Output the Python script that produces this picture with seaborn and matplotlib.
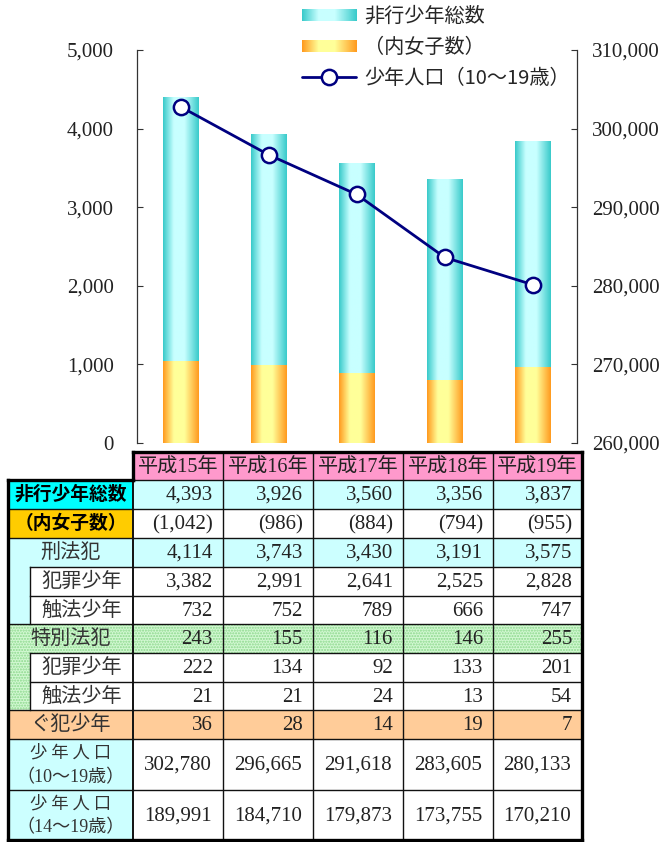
import numpy as np
import pandas as pd
import matplotlib
matplotlib.use("Agg")
import matplotlib.pyplot as plt
import seaborn as sns
from matplotlib.colors import LinearSegmentedColormap
from matplotlib.patches import Rectangle, Patch
from matplotlib.lines import Line2D
from matplotlib.legend_handler import HandlerBase
from matplotlib.image import BboxImage
from matplotlib.transforms import Bbox, TransformedBbox
from matplotlib.ticker import FuncFormatter, MultipleLocator

# ---------------- data ----------------
years = ["平成15年", "平成16年", "平成17年", "平成18年", "平成19年"]
total = [4393, 3926, 3560, 3356, 3837]          # 非行少年総数
female = [1042, 986, 884, 794, 955]             # 内女子数
keiho = [4114, 3743, 3430, 3191, 3575]          # 刑法犯
keiho_hanzai = [3382, 2991, 2641, 2525, 2828]   # 犯罪少年
keiho_shokuho = [732, 752, 789, 666, 747]       # 触法少年
tokubetsu = [243, 155, 116, 146, 255]           # 特別法犯
tok_hanzai = [222, 134, 92, 133, 201]           # 犯罪少年
tok_shokuho = [21, 21, 24, 13, 54]              # 触法少年
guhan = [36, 28, 14, 19, 7]                     # ぐ犯少年
pop_10_19 = [302780, 296665, 291618, 283605, 280133]
pop_14_19 = [189991, 184710, 179873, 173755, 170210]

legend_labels = ["非行少年総数", "（内女子数）", "少年人口（10～19歳）"]
row_labels = ["非行少年総数", "（内女子数）", "刑法犯", "犯罪少年", "触法少年",
              "特別法犯", "犯罪少年", "触法少年", "ぐ犯少年",
              ("少 年 人 口", "（10～19歳）"), ("少 年 人 口", "（14～19歳）")]

# ---------------- style ----------------
sns.set_style("white")
JP = "Noto Sans CJK JP"
SERIF_JP = ["Liberation Serif", JP]
plt.rcParams["font.family"] = SERIF_JP

W, H = 663, 842
fig = plt.figure(figsize=(W / 100, H / 100), dpi=100)

cyan_cmap = LinearSegmentedColormap.from_list(
    "cy", [(0, "#38CACA"), (0.3, "#C8FFFF"), (0.6, "#C8FFFF"), (1, "#38CACA")])
orange_cmap = LinearSegmentedColormap.from_list(
    "or", [(0, "#FF9A1E"), (0.3, "#FFFF99"), (0.6, "#FFFF99"), (1, "#FF9A1E")])
grad = np.linspace(0, 1, 128).reshape(1, -1)

# ---------------- chart ----------------
ax = fig.add_axes([136.5 / W, 1 - 443 / H, (577 - 136.5) / W, (443 - 50) / H])
df = pd.DataFrame({"year": years, "total": total, "female": female})
sns.barplot(data=df, x="year", y="total", width=0.4, color="#3ECCCC", ax=ax)
sns.barplot(data=df, x="year", y="female", width=0.4, color="#FF9A1E", ax=ax)

for cont, cmap, z in [(ax.containers[0], cyan_cmap, 2), (ax.containers[1], orange_cmap, 3)]:
    for p in cont:
        x0, y0, w, h = p.get_x(), p.get_y(), p.get_width(), p.get_height()
        ax.imshow(grad, extent=(x0, x0 + w, y0, y0 + h), aspect="auto",
                  cmap=cmap, interpolation="bilinear", zorder=z)
        p.set_visible(False)

ax.set_xlim(-0.5, len(years) - 0.5)
ax.set_ylim(0, 5000)
ax.yaxis.set_major_locator(MultipleLocator(1000))
ax.yaxis.set_major_formatter(FuncFormatter(lambda v, p: f"{int(v):,}"))
ax.set_xticks([])
ax.set_xlabel("")
ax.set_ylabel("")
for s in ["top", "right", "bottom"]:
    ax.spines[s].set_visible(False)
ax.spines["left"].set_color("#333333")
ax.spines["left"].set_linewidth(0.9)
ax.tick_params(axis="y", direction="in", length=4, width=0.8, color="#333333",
               pad=16.5, labelsize=15, labelcolor="#222222", left=True)
for t in ax.get_yticklabels():
    t.set_family("Liberation Serif")

ax2 = ax.twinx()
sns.lineplot(x=np.arange(len(years)), y=pop_10_19, ax=ax2, color="#000080",
             linewidth=2, marker="o", markersize=11, markerfacecolor="white",
             markeredgecolor="#000080", markeredgewidth=1.8, legend=False, zorder=5)
ax2.set_ylim(260000, 310000)
ax2.yaxis.set_major_locator(MultipleLocator(10000))
ax2.yaxis.set_major_formatter(FuncFormatter(lambda v, p: f"{int(v):,}"))
ax2.set_xlim(-0.5, len(years) - 0.5)
ax2.set_ylabel("")
for s in ["top", "left", "bottom"]:
    ax2.spines[s].set_visible(False)
ax2.spines["right"].set_color("#333333")
ax2.spines["right"].set_linewidth(0.9)
ax2.tick_params(axis="y", direction="in", length=4, width=0.8, color="#333333",
                pad=11, labelsize=15, labelcolor="#222222", right=True)
for t in ax2.get_yticklabels():
    t.set_family("Liberation Serif")


# ---------------- legend ----------------
class HandlerGrad(HandlerBase):
    def __init__(self, cmap, **kw):
        super().__init__(**kw)
        self.cmap = cmap

    def create_artists(self, legend, orig_handle, xdescent, ydescent,
                       width, height, fontsize, trans):
        bb = Bbox.from_bounds(-xdescent, -ydescent + height * 0.05, width, height * 0.85)
        img = BboxImage(TransformedBbox(bb, trans), cmap=self.cmap,
                        interpolation="bilinear")
        img.set_data(grad)
        return [img]


h_cyan = Patch(color="#3ECCCC")
h_or = Patch(color="#FF9A1E")
h_line = Line2D([], [], color="#000080", linewidth=2, marker="o", markersize=11,
                markerfacecolor="white", markeredgecolor="#000080", markeredgewidth=1.8)
leg = fig.legend([h_cyan, h_or, h_line], legend_labels,
                 handler_map={h_cyan: HandlerGrad(cyan_cmap), h_or: HandlerGrad(orange_cmap)},
                 loc="upper left", bbox_to_anchor=(302 / W, 1 - 6 / H),
                 frameon=False, borderpad=0, borderaxespad=0,
                 handlelength=2.7, handleheight=0.7, handletextpad=0.4,
                 labelspacing=0.5, numpoints=1, prop={"family": JP, "size": 14.5})

# ---------------- table ----------------
tax = fig.add_axes([0, 0, 1, 1])
tax.set_xlim(0, W)
tax.set_ylim(H, 0)
tax.axis("off")

cols = [133, 223, 313, 403, 493, 582]
LX, SX = 8, 30
rows = [452, 480, 509, 538, 567, 596, 624, 653, 682, 710, 739, 790, 840]
CY, LCY, GOLD, CYAN, PEACH, PINK = "#CCFFFF", "#CCFFFF", "#FFCC00", "#00FFFF", "#FFCC99", "#FF99CC"
GREEN = "green"


def fill(x0, y0, x1, y1, fc):
    if fc == GREEN:
        tax.add_patch(Rectangle((x0, y0), x1 - x0, y1 - y0, facecolor="#D2F8D2",
                                edgecolor="#8CD88C", hatch="......", lw=0, zorder=1))
    else:
        tax.add_patch(Rectangle((x0, y0), x1 - x0, y1 - y0, facecolor=fc,
                                edgecolor="none", lw=0, zorder=1))


def line(x0, y0, x1, y1, lw=1.0, c="#111111"):
    tax.plot([x0, x1], [y0, y1], color=c, lw=lw, zorder=3,
             solid_capstyle="projecting")


value_rows = [total, female, keiho, keiho_hanzai, keiho_shokuho, tokubetsu,
              tok_hanzai, tok_shokuho, guhan, pop_10_19, pop_14_19]
value_fill = [CY, "white", CY, "white", "white", GREEN, "white", "white", PEACH, "white", "white"]
label_fill = [CYAN, GOLD, LCY, "white", "white", GREEN, "white", "white", PEACH, LCY, LCY]
strip_fill = {3: LCY, 4: LCY, 6: GREEN, 7: GREEN}

# header
for j, yr in enumerate(years):
    fill(cols[j], rows[0], cols[j + 1], rows[1], PINK)
    tax.text((cols[j] + cols[j + 1]) / 2, (rows[0] + rows[1]) / 2 + 1, yr,
             ha="center", va="center", fontsize=14.5, family=SERIF_JP, color="#222222", zorder=4)

for i, vals in enumerate(value_rows):
    y0, y1 = rows[i + 1], rows[i + 2]
    yc = (y0 + y1) / 2
    for j, v in enumerate(vals):
        fill(cols[j], y0, cols[j + 1], y1, value_fill[i])
        if i == 1:
            s = f"({v:,})"
        else:
            s = f"{v:,}"
        if i >= 9:
            tax.text((cols[j] + cols[j + 1]) / 2, yc + 1, s, ha="center", va="center",
                     fontsize=15, family="Liberation Serif", color="#222222", zorder=4)
        else:
            tax.text(cols[j + 1] - 10, yc + 1, s, ha="right", va="center",
                     fontsize=15, family="Liberation Serif", color="#222222", zorder=4)
    # label cells
    if i in strip_fill:
        fill(LX, y0, SX, y1, strip_fill[i])
        fill(SX, y0, cols[0], y1, label_fill[i])
        xc = (SX + cols[0]) / 2
    else:
        fill(LX, y0, cols[0], y1, label_fill[i])
        xc = (LX + cols[0]) / 2
    lab = row_labels[i]
    if i in (0, 1):
        tax.text(xc, yc, lab, ha="center", va="center", fontsize=13.5,
                 fontweight="bold", family=JP, color="black", zorder=4)
    elif isinstance(lab, tuple):
        tax.text(xc, yc - 12, lab[0], ha="center", va="center", fontsize=12.5,
                 family=JP, color="#333333", zorder=4)
        tax.text(xc, yc + 13, lab[1], ha="center", va="center", fontsize=13,
                 family=SERIF_JP, color="#333333", zorder=4)
    else:
        tax.text(xc, yc, lab, ha="center", va="center", fontsize=14.5,
                 family=JP, color="#333333", zorder=4)

# inner lines
for k in range(2, len(rows) - 1):
    yk = rows[k]
    line(cols[0], yk, cols[-1], yk)
    if k in (4, 5, 7, 8):
        line(SX, yk, cols[0], yk)
    else:
        line(LX, yk, cols[0], yk)
line(cols[0], rows[1], cols[-1], rows[1])
for xc_ in cols[1:-1]:
    line(xc_, rows[0], xc_, rows[-1])
line(cols[0], rows[1], cols[0], rows[-1], lw=1.4)
line(SX, rows[4], SX, rows[6])
line(SX, rows[7], SX, rows[9])

# thick outer border
TK = 2.4
line(cols[0], rows[0], cols[-1], rows[0], lw=TK, c="black")
line(cols[0], rows[0], cols[0], rows[1], lw=TK, c="black")
line(LX, rows[1], cols[0], rows[1], lw=TK, c="black")
line(LX, rows[1], LX, rows[-1], lw=TK, c="black")
line(LX, rows[-1], cols[-1], rows[-1], lw=TK, c="black")
line(cols[-1], rows[0], cols[-1], rows[-1], lw=TK, c="black")

fig.savefig("out.png", dpi=100)
